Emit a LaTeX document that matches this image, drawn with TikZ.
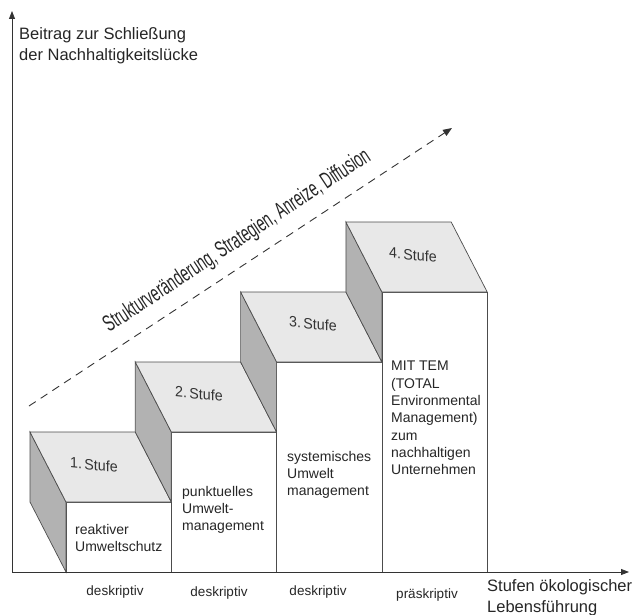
\documentclass[tikz,border=0pt]{standalone}
\usepackage{fontspec}
\setmainfont{Liberation Sans}
\usetikzlibrary{arrows.meta}
\begin{document}
\begin{tikzpicture}[x=1pt,y=1pt,
  axisline/.style={draw=black!80, line width=0.8pt, -{Triangle[length=8pt,width=6pt]}},
  topface/.style={fill=black!9, draw=black!70, line width=0.7pt},
  sideface/.style={fill=black!30, draw=black!70, line width=0.7pt},
  frontface/.style={fill=white, draw=black!70, line width=0.7pt},
  stufelbl/.style={font=\fontsize{15}{15}\selectfont, yslant=-0.1, text=black!80, inner sep=0},
  desc/.style={font=\fontsize{14}{17.3}\selectfont, align=left, anchor=north west, inner sep=0, text=black!85},
  bottomlbl/.style={font=\fontsize{13.5}{16}\selectfont, text=black!85, inner sep=0},
  axislbl/.style={font=\fontsize{16.5}{21}\selectfont, align=left, inner sep=0, anchor=north west, text=black!85},
  trend/.style={draw=black!80, line width=0.9pt, dash pattern=on 8pt off 6pt, -{Triangle[length=9pt,width=7pt]}}]
\useasboundingbox (0,0) rectangle (642,-615);

% steps
\foreach \k in {0,1,2,3}{
  \pgfmathsetmacro{\xl}{66+105.3*\k}
  \pgfmathsetmacro{\xr}{\xl+105.3}
  \pgfmathsetmacro{\tp}{502-70*\k}
  \pgfmathsetmacro{\bk}{\tp-70}
  \pgfmathsetmacro{\lo}{\tp+70}
  \fill[frontface] (\xl,-\tp) rectangle (\xr,-572);
  \filldraw[sideface] (\xl-36,-\bk) -- (\xl,-\tp) -- (\xl,-\lo) -- (\xl-36,-\tp) -- cycle;
  \filldraw[topface] (\xl-36,-\bk) -- (\xr-36,-\bk) -- (\xr,-\tp) -- (\xl,-\tp) -- cycle;
}

% axes
\coordinate (origin) at (12,-572);
\coordinate (ytip) at (12,-11);
\coordinate (xtip) at (629,-572);
\draw[axisline] (origin) -- (ytip);
\draw[axisline] (origin) -- (xtip);

% trend arrow
\coordinate (tstart) at (29,-406);
\coordinate (tend) at (452,-128);
\draw[trend] (tstart) -- (tend);
\node[rotate=33.4, anchor=base west, inner sep=0, text=black!85] (trendlbl) at (109,-333)
  {\scalebox{0.605}[1]{\fontsize{23}{23}\selectfont Strukturveränderung, Strategien, Anreize, Diffusion}};

% step labels
\node[stufelbl] (s1) at (94,-465) {\scalebox{0.95}[1]{1.\,Stufe}};
\node[stufelbl] (s2) at (199,-394) {\scalebox{0.95}[1]{2.\,Stufe}};
\node[stufelbl] (s3) at (313,-324) {\scalebox{0.95}[1]{3.\,Stufe}};
\node[stufelbl] (s4) at (413,-255) {\scalebox{0.95}[1]{4.\,Stufe}};

% descriptions
\node[desc] (d1) at (75,-524) {reaktiver\\Umweltschutz};
\node[desc] (d2) at (182,-486) {punktuelles\\Umwelt-\\management};
\node[desc] (d3) at (287,-451) {systemisches\\Umwelt\\management};
\node[desc] (d4) at (391,-361) {MIT TEM\\(TOTAL\\Environmental\\Management)\\zum\\nachhaltigen\\Unternehmen};

% bottom labels
\node[bottomlbl] (b1) at (115,-592) {deskriptiv};
\node[bottomlbl] (b2) at (219,-593) {deskriptiv};
\node[bottomlbl] (b3) at (318,-592) {deskriptiv};
\node[bottomlbl] (b4) at (427,-595) {präskriptiv};

% axis labels
\node[axislbl] (ylbl) at (19,-27) {Beitrag zur Schließung\\der Nachhaltigkeitslücke};
\node[axislbl] (xlbl) at (487,-579) {Stufen ökologischer\\Lebensführung};
\end{tikzpicture}
\end{document}
